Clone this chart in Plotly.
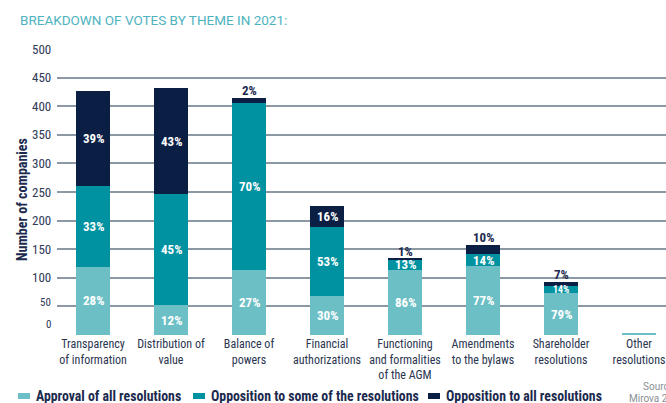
import plotly.graph_objects as go

# ---- data -------------------------------------------------------------
themes = [
    "Transparency<br>of information",
    "Distribution of<br>value",
    "Balance of<br>powers",
    "Financial<br>authorizations",
    "Functioning<br>and formalities<br>of the AGM",
    "Amendments<br>to the bylaws",
    "Shareholder<br>resolutions",
    "Other<br>resolutions",
]
totals = [427, 432, 418, 227, 133, 156, 92, 4]          # companies per theme
pct_approval = [28, 12, 27, 30, 86, 77, 79, 100]
pct_some = [33, 45, 70, 53, 13, 14, 14, 0]
pct_all = [39, 43, 2, 16, 1, 10, 7, 0]
show_labels = [True, True, True, True, True, True, True, False]
y_ticks = [0, 50, 100, 150, 200, 250, 300, 350, 400, 450, 500]

series_names = [
    "Approval of all resolutions",
    "Opposition to some of the resolutions",
    "Opposition to all resolutions",
]
colors = ["#6dbfc6", "#0092a0", "#0b1f45"]

# ---- geometry helpers ---------------------------------------------------
W, H = 666, 403
L, R, T, B = 57, 0, 49, 68
PW, PH = W - L - R, H - T - B


def px(x):
    return (x - L) / PW


def py(y):
    return (H - B - y) / PH


FONT = "Roboto Condensed, DejaVu Sans Condensed, sans-serif"
NAVY = "#1b2a4e"
TICK = "#2e3a58"


def note(x, y, text, size, color, family=FONT, xanchor="center", **kw):
    """Text placed by pixel position (centre-middle unless told otherwise)."""
    return dict(x=px(x), y=py(y), xref="paper", yref="paper", text=text,
                showarrow=False, xanchor=xanchor, yanchor="middle",
                font=dict(family=family, size=size, color=color), **kw)


pcts = [pct_approval, pct_some, pct_all]
counts = [[t * p / 100 for t, p in zip(totals, pc)] for pc in pcts]
xs = list(range(len(themes)))

fig = go.Figure()
for name, col, vals in zip(series_names, colors, counts):
    fig.add_trace(go.Bar(x=xs, y=vals, name=name, marker_color=col,
                         marker_line_width=0, width=0.436, showlegend=False))

annotations = []
# segment labels
for i in xs:
    if not show_labels[i]:
        continue
    base = 0
    for s in range(3):
        v = counts[s][i]
        p = pcts[s][i]
        if s == 2 and v < 20:
            # thin top segment: label sits above the bar
            top = sum(counts[k][i] for k in range(3))
            annotations.append(dict(x=i, y=top, xref="x", yref="y", text=f"<b>{p}%</b>",
                                    showarrow=False, xanchor="center", yanchor="bottom",
                                    yshift=-2, font=dict(family=FONT, size=13, color=NAVY)))
        else:
            size = 10 if (v < 15) else 13
            annotations.append(dict(x=i, y=base + v / 2, xref="x", yref="y",
                                    text=f"<b>{p}%</b>", showarrow=False,
                                    xanchor="center", yanchor="middle",
                                    font=dict(family=FONT, size=size, color="white")))
        base += v

# y tick labels (the two lowest are smaller and raised)
for v in y_ticks:
    if v >= 100:
        annotations.append(dict(x=px(53), y=v, xref="paper", yref="y", text=str(v),
                                showarrow=False, xanchor="right", yanchor="middle",
                                font=dict(family=FONT, size=13, color=TICK)))
annotations.append(note(53, 302, "50", 11, TICK, xanchor="right"))
annotations.append(note(53, 324, "0", 11, TICK, xanchor="right"))

# axis title
annotations.append(note(22, 200, "<b>Number of companies</b>", 14, NAVY, textangle=-90))

# chart title
annotations.append(note(18, 20, "BREAKDOWN OF VOTES BY THEME IN 2021:", 13.5, "#4fb3bf",
                        family="Roboto", xanchor="left"))

# source
annotations.append(note(641, 386, "Source:", 10, "#8a8f96", family="Roboto", xanchor="left"))
annotations.append(note(627, 398, "Mirova 2021", 10, "#8a8f96", family="Roboto",
                        xanchor="left"))

# legend
shapes = []
legend_x = [18, 193, 428]
for x0, name, col in zip(legend_x, series_names, colors):
    shapes.append(dict(type="rect", xref="paper", yref="paper",
                       x0=px(x0), x1=px(x0 + 12), y0=py(399), y1=py(393),
                       fillcolor=col, line_width=0))
    annotations.append(note(x0 + 16, 396, f"<b>{name}</b>", 13.8, NAVY, xanchor="left"))

fig.update_layout(
    width=W, height=H,
    margin=dict(l=L, r=R, t=T, b=B, pad=0),
    paper_bgcolor="white", plot_bgcolor="white",
    barmode="stack", bargap=0,
    annotations=annotations, shapes=shapes,
    xaxis=dict(range=[-0.4615, 7.346], tickmode="array", tickvals=xs, ticktext=themes,
               showgrid=False, zeroline=False, showline=False, ticks="",
               tickangle=0, automargin=False, ticklabeloverflow="allow",
               tickfont=dict(family=FONT, size=12, color="#2a3550")),
    yaxis=dict(range=[0, 500], tickmode="array", tickvals=y_ticks, showticklabels=False,
               showgrid=True, gridcolor="#8c98a4", gridwidth=1.5, zeroline=False,
               showline=False, ticks="", automargin=False),
)

fig.write_html("out.html")
